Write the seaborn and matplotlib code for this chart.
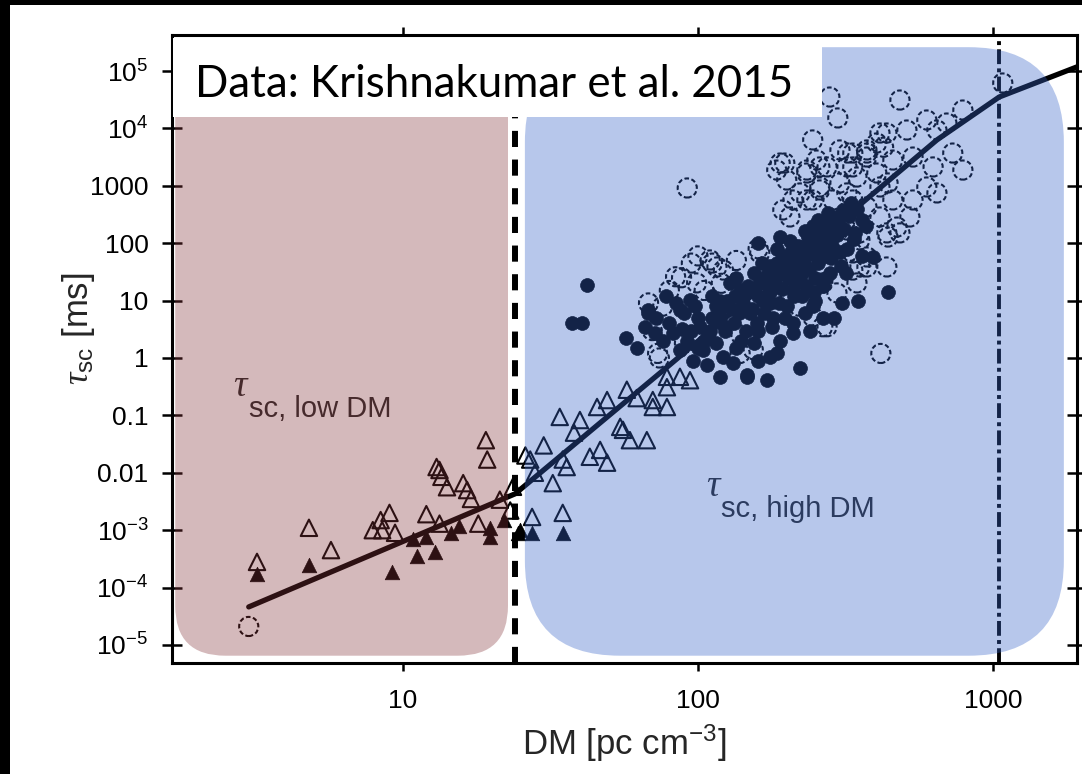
import numpy as np
import pandas as pd
import matplotlib
matplotlib.use("Agg")
import matplotlib.pyplot as plt
import seaborn as sns
from matplotlib.patches import FancyBboxPatch, Rectangle
from matplotlib.ticker import FixedLocator, FixedFormatter, NullLocator

# ---------------- data ----------------
open_circle_dm = [3.0, 92, 68, 84, 1080, 280, 298, 484, 791, 437, 597, 511, 646, 698, 731, 791,
                  646, 627, 536, 414, 404, 374, 335, 320, 303, 259, 253, 245, 274, 234, 190, 200,
                  210, 234, 194, 205, 287, 320, 335, 374, 458, 414, 536, 597, 437, 484, 354, 335,
                  374, 437, 473, 523, 346, 265, 296, 197, 185, 234, 259, 303, 322, 374, 222, 245,
                  259, 346, 404, 441, 320, 354, 441, 354, 116, 99, 110, 162, 245, 265, 154, 139,
                  74, 73, 112, 122, 274, 335, 374, 417, 150, 200, 250, 180, 300, 130, 220, 414,
                  458, 374, 335, 426,
                  70, 76, 80, 88, 95, 105, 90, 120, 135, 140, 160, 100]
open_circle_tau = [2.1e-5, 916, 9.1, 26, 61800, 35200, 15200, 31200, 20900, 8310, 14000, 9370,
                   9370, 12400, 3720, 1880, 750, 2130, 3170, 8310, 5570, 3720, 3720, 2130, 1120,
                   846, 2810, 6290, 2130, 1670, 2490, 1260, 566, 566, 379, 286, 566, 750, 566, 428,
                   566, 286, 566, 953, 151, 151, 114, 67.5, 38.5, 38.5, 191, 286, 20.3, 20.3, 13.6,
                   2490, 1880, 1880, 2130, 4210, 3720, 4210, 750, 566, 953, 1420, 1670, 1120, 170,
                   151, 128, 38.5, 38.5, 20.3, 51, 67.5, 5.2, 3.5, 1.4, 1.2, 1.0, 1.2, 45, 34, 3.5,
                   34, 57.5, 1.2, 10, 30, 60, 15, 100, 5, 8, 953, 2810, 3170, 2130, 4700,
                   3, 8, 15, 25, 45, 15, 1.8, 20, 50, 2.5, 80, 60]

filled_circle_dm = [42, 37.4, 40.4, 57, 67.7, 71.4, 67.7, 87, 94, 104, 107, 119, 122, 131, 147,
                    171, 175, 222, 210, 308, 441, 392, 160, 190, 222, 310, 160, 180, 200, 140, 170,
                    190, 210, 230, 250, 160, 130, 120, 110, 150, 175, 200, 220, 240, 260, 280, 300,
                    270, 250, 230, 210, 190, 280, 320, 140, 125, 115, 100, 95, 105, 135, 155, 185,
                    240, 290, 350, 265, 215, 195, 175, 245, 300, 330, 285, 82, 87, 147, 160, 119,
                    144, 128, 90, 98, 112, 135, 155, 165, 185, 205, 230, 255, 275, 205, 225, 245,
                    265, 305, 340, 360,
                    92, 96, 100, 102, 108, 112, 115, 118, 124, 126, 132, 134, 138, 142, 146, 148,
                    152, 156, 158, 162, 166, 168, 172, 176, 178, 182, 186, 188, 192, 196, 198, 202,
                    206, 212, 216, 218, 224, 228, 232, 236, 238, 244, 248, 252, 256, 262, 268, 272,
                    278, 282, 288, 295, 302, 312, 318, 326, 338, 345, 360, 370,
                    62, 66, 72, 76, 80, 84, 88, 78]
filled_circle_tau = [18.7, 4.1, 4.1, 2.2, 6.1, 2.7, 6.9, 6.9, 10.2, 1.4, 0.76, 0.47, 1.04, 0.82,
                     0.51, 0.41, 1.04, 0.67, 2.7, 9.1, 14, 57.5, 101, 128, 86, 379, 3, 5, 8, 2, 20,
                     30, 15, 40, 25, 12, 7, 4, 3, 6, 9, 50, 70, 100, 120, 150, 200, 60, 10, 6, 4, 2,
                     30, 80, 15, 10, 8, 5, 3, 2, 1.5, 1.8, 1.2, 3, 5, 10, 18, 22, 60, 40, 200, 300,
                     500, 90, 2.7, 1.4, 0.47, 0.9, 10, 15, 20, 6, 8, 12, 25, 30, 45, 80, 110, 160,
                     250, 330, 35, 12, 8, 5, 40, 150, 250,
                     2, 0.9, 1.5, 3.5, 2.5, 5, 1.8, 6, 3, 8, 4, 12, 6, 9, 3, 18,
                     7, 14, 4, 22, 10, 6, 28, 14, 3.5, 20, 45, 9, 16, 35, 5, 25,
                     70, 12, 40, 90, 28, 55, 18, 130, 35, 65, 14, 160, 45, 90, 200, 25,
                     110, 55, 250, 140, 70, 180, 30, 300, 120, 400, 60, 200,
                     1.5, 3.5, 5, 2, 4, 9, 3.2, 12]

open_tri_dm = [34, 39.8, 45.5, 49.2, 57.4, 54.5, 58.8, 67.1, 70.3, 78.5, 43, 49.2, 46.6, 35.9,
               32.2, 34.8, 34.8, 27, 27.4, 70.3, 78.5, 78.5, 94, 86.9, 55.7, 26, 28, 62, 30, 38,
               3.2, 4.8, 5.7, 8.4, 9.0, 7.9, 8.5, 9.4, 12, 13.3, 13, 13.5, 14.1, 16, 13.3, 19.1,
               19.3, 18, 21.3, 16.5, 17, 23.1, 23.6]
open_tri_tau = [0.094, 0.083, 0.14, 0.185, 0.28, 0.063, 0.037, 0.037, 0.185, 0.31, 0.019, 0.015,
                0.025, 0.0126, 0.0066, 0.017, 0.002, 0.017, 0.0017, 0.14, 0.14, 0.47, 0.41, 0.47,
                0.056, 0.02, 0.01, 0.2, 0.03, 0.05,
                2.8e-4, 1.1e-3, 4.5e-4, 1.5e-3, 2.0e-3, 1.0e-3, 1.0e-3, 9e-4, 1.9e-3, 1.3e-3,
                0.0126, 0.0085, 0.0056, 0.0066, 0.0112, 0.037, 0.017, 0.0013, 0.0034, 0.005,
                0.0035, 0.0022, 0.0057]

filled_tri_dm = [34.8, 27.4, 24.9, 3.2, 4.8, 9.2, 11.2, 12.8, 10.8, 12, 19.7, 19.7, 14.5, 24.5,
                 15.5, 22]
filled_tri_tau = [8.9e-4, 8.9e-4, 1.01e-3, 1.7e-4, 2.5e-4, 1.9e-4, 3.5e-4, 4.2e-4, 6.9e-4, 7.6e-4,
                  7.6e-4, 1.1e-3, 8.9e-4, 8.9e-4, 1.2e-3, 1.5e-3]

fit_dm = [3.0, 24, 46.6, 78.5, 646, 1050, 1928]
fit_tau = [4.6e-5, 4.3e-3, 0.074, 0.69, 6300, 35200, 118000]

break_dm = 24
upper_dm = 1050

ytick_values = [1e-5, 1e-4, 1e-3, 1e-2, 1e-1, 1, 10, 100, 1000, 1e4, 1e5]
ytick_labels = [r"$10^{-5}$", r"$10^{-4}$", r"$10^{-3}$", "0.01", "0.1", "1", "10", "100",
                "1000", r"$10^{4}$", r"$10^{5}$"]
xtick_values = [10, 100, 1000]
xtick_labels = ["10", "100", "1000"]

# ---------------- style ----------------
sns.set_style("ticks")
plt.rcParams["font.family"] = ["Liberation Sans", "DejaVu Sans"]
plt.rcParams["mathtext.fontset"] = "custom"
plt.rcParams["mathtext.rm"] = "Liberation Sans"
plt.rcParams["mathtext.it"] = "Liberation Serif:italic"
plt.rcParams["mathtext.bf"] = "Liberation Sans:bold"
plt.rcParams["mathtext.default"] = "regular"

DPI = 100
fig = plt.figure(figsize=(10.82, 7.74), dpi=DPI, facecolor="white")
ax = fig.add_axes([172 / 1082, (774 - 663) / 774, (1077 - 172) / 1082, (663 - 35) / 774])
ax.set_facecolor("white")
ax.set_xscale("log")
ax.set_yscale("log")

oc = pd.DataFrame({"DM": open_circle_dm, "tau": open_circle_tau})
fc = pd.DataFrame({"DM": filled_circle_dm, "tau": filled_circle_tau})
ot = pd.DataFrame({"DM": open_tri_dm, "tau": open_tri_tau})
ft = pd.DataFrame({"DM": filled_tri_dm, "tau": filled_tri_tau})
fit = pd.DataFrame({"DM": fit_dm, "tau": fit_tau})

sns.scatterplot(data=oc, x="DM", y="tau", marker="o", s=190, facecolor="none",
                edgecolor="black", linewidth=1.5, linestyle=(0, (2.2, 1.2)), ax=ax, zorder=3)
sns.scatterplot(data=fc, x="DM", y="tau", marker="o", s=100, color="black",
                edgecolor="black", linewidth=0.5, ax=ax, zorder=3)
sns.scatterplot(data=ot, x="DM", y="tau", marker="^", s=140, facecolor="none",
                edgecolor="black", linewidth=1.5, ax=ax, zorder=3)
sns.scatterplot(data=ft, x="DM", y="tau", marker="^", s=110, color="black",
                edgecolor="black", linewidth=0.5, ax=ax, zorder=3)
sns.lineplot(data=fit, x="DM", y="tau", color="black", lw=3.8, sort=False,
             estimator=None, ax=ax, zorder=4)

ax.axvline(break_dm, color="black", lw=4.3, ls=(0, (2.7, 2.1)), zorder=5)
ax.axvline(upper_dm, color="black", lw=2.8, ls=(0, (3.8, 1.1, 1.0, 1.1)), zorder=5)

ax.set_xlim(1.648, 1928)
ax.set_ylim(4.85e-6, 4.24e5)

ax.yaxis.set_major_locator(FixedLocator(ytick_values))
ax.yaxis.set_major_formatter(FixedFormatter(ytick_labels))
ax.yaxis.set_minor_locator(NullLocator())
ax.xaxis.set_major_locator(FixedLocator(xtick_values))
ax.xaxis.set_major_formatter(FixedFormatter(xtick_labels))
ax.xaxis.set_minor_locator(NullLocator())

ax.tick_params(axis="y", which="major", direction="inout", length=14, width=1.8,
               labelsize=19, pad=10, left=True, right=True, colors="black")
ax.tick_params(axis="x", which="major", direction="out", length=6, width=1.8,
               labelsize=19, pad=13, bottom=True, top=True, colors="black")
for sp in ax.spines.values():
    sp.set_visible(True)
    sp.set_linewidth(2.2)
    sp.set_color("black")

ax.set_xlabel(r"DM [pc cm$^{-3}$]", fontsize=25)
ax.set_ylabel(r"$\mathit{\tau}_{sc}$ [ms]", fontsize=25)
ax.xaxis.set_label_coords(0.5, -0.094)
ax.yaxis.set_label_coords(-0.083, 0.533)

# region labels (under the translucent overlays)
ax.annotate("sc, low DM", xy=(3.0, 0.094), xytext=(0, 0), textcoords="offset points",
            fontsize=21, va="baseline", ha="left")
ax.annotate(r"$\mathit{\tau}$", xy=(3.0, 0.094), xytext=(-11, 15), textcoords="offset points",
            fontsize=27, va="baseline", ha="left")
ax.annotate("sc, high DM", xy=(120, 1.7e-3), xytext=(0, 0), textcoords="offset points",
            fontsize=21, va="baseline", ha="left")
ax.annotate(r"$\mathit{\tau}$", xy=(120, 1.7e-3), xytext=(-11, 15), textcoords="offset points",
            fontsize=27, va="baseline", ha="left")

# ---------------- overlays (figure level, above the data) ----------------
def px(x, y):
    return ax.transData.transform((x, y)) / DPI


def rbox(x0, x1, y0, y1, r_px, **kw):
    (a, b) = px(x0, y0)
    (c, d) = px(x1, y1)
    p = FancyBboxPatch((a, b), c - a, d - b,
                       boxstyle=f"round,pad=0,rounding_size={r_px / DPI}",
                       transform=fig.dpi_scale_trans, **kw)
    fig.add_artist(p)
    return p

rbox(1.69, 22.7, 6.5e-6, 1.8e5, 50, facecolor="#85343A", alpha=0.345, edgecolor="none", zorder=1)
rbox(25.9, 1740, 6.5e-6, 2.6e5, 95, facecolor="#3663C8", alpha=0.355, edgecolor="none", zorder=1)

(a, b) = px(1.667, 1.58e4)
(c, d) = px(263, 3.76e5)
fig.add_artist(Rectangle((a, b), c - a, d - b, transform=fig.dpi_scale_trans,
                         facecolor="white", edgecolor="none", zorder=3))
t = fig.text(195 / 1082, (774 - 97) / 774, "Data: Krishnakumar et al. 2015",
             fontsize=29, family=["Lato", "DejaVu Sans"], va="baseline", ha="left",
             color="black", zorder=4)
fig.canvas.draw()
w = t.get_window_extent().width
t.set_fontsize(29 * 598 / w)

# black frame strips at top and left
fig.add_artist(Rectangle((0, 1 - 5 / 774), 1, 5 / 774, transform=fig.transFigure,
                         facecolor="black", edgecolor="none", zorder=10))
fig.add_artist(Rectangle((0, 0), 10 / 1082, 1, transform=fig.transFigure,
                         facecolor="black", edgecolor="none", zorder=10))

fig.savefig("out.png", dpi=DPI, facecolor="white")
